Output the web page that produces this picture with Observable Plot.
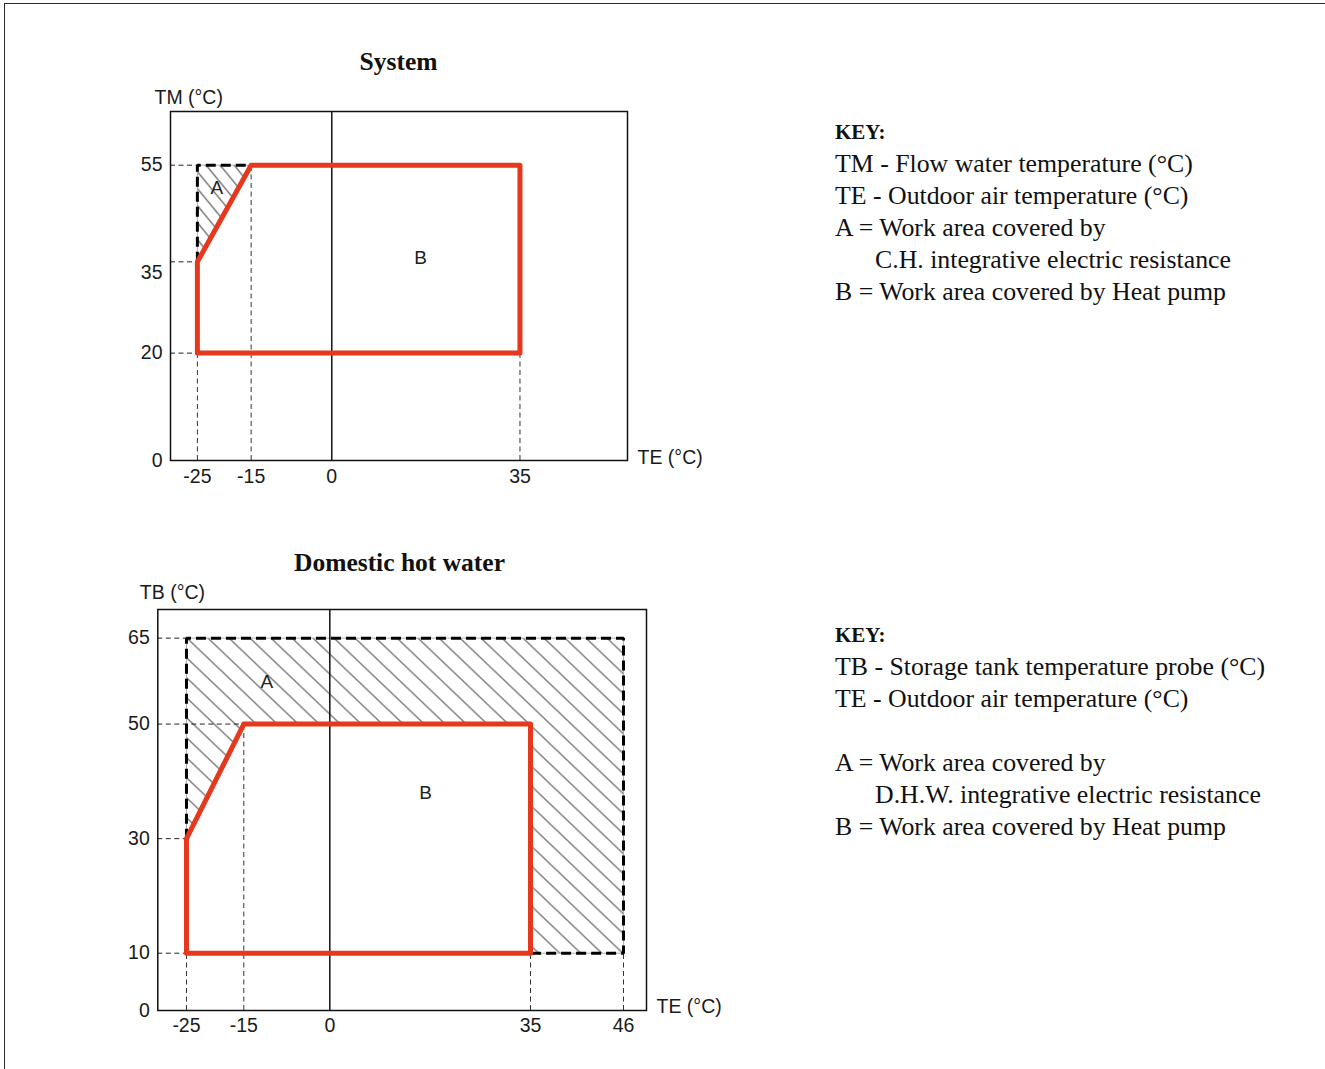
<!DOCTYPE html>
<html>
<head>
<meta charset="utf-8">
<script src="https://cdn.jsdelivr.net/npm/d3@7"></script>
<script src="https://cdn.jsdelivr.net/npm/@observablehq/plot@0.6"></script>
<style>
  html, body { margin: 0; padding: 0; background: #fff; overflow: hidden; }
  #page { position: relative; width: 1325px; height: 1069px; overflow: hidden; background: #fff; }
  #border { position: absolute; left: 4px; top: 3px; width: 1400px; height: 1200px; border: 1.5px solid #2b2b2b; }
  .title { position: absolute; font-family: "Liberation Serif", "Times New Roman", serif; font-weight: bold;
           font-size: 25.5px; line-height: 32px; text-align: center; color: #111; white-space: nowrap; }
  .key { position: absolute; left: 835px; font-family: "Liberation Serif", "Times New Roman", serif;
         font-size: 25.8px; line-height: 32px; color: #111; white-space: nowrap; }
  .key .kh { font-weight: bold; font-size: 21px; }
  .key .ind { padding-left: 40px; }
  .chart { position: absolute; left: 0; }
</style>
</head>
<body>
<div id="page">
  <div id="border"></div>
  <div class="title" style="left:170px; width:457px; top:46px;">System</div>
  <div class="title" style="left:155px; width:489px; top:547px;">Domestic hot water</div>
  <div id="key1" class="key" style="top:115px;"></div>
  <div id="key2" class="key" style="top:618px;"></div>
  <div id="chart1" class="chart" style="top:0px;"></div>
  <div id="chart2" class="chart" style="top:500px;"></div>
</div>
<script>
// ---------------- System chart data ----------------
const sysXTicks = [-25, -15, 0, 35];
const sysYTicks = [0, 20, 35, 55];
const sysHeatPump = [[-25, 20], [-25, 37], [-15, 55], [35, 55], [35, 20]];      // area B
const sysResistance = [[-25, 37], [-25, 55], [-15, 55]];                          // area A
const sysResistanceEdge = [[-25, 37], [-25, 55], [-15, 55]];
const sysGuidesH = [{y: 55, x1: -30, x2: -25}, {y: 37, x1: -30, x2: -25}, {y: 20, x1: -30, x2: -25}];
const sysGuidesV = [{x: -25, y1: 0, y2: 20}, {x: -15, y1: 0, y2: 55}, {x: 35, y1: 0, y2: 20}];
const sysAreaLabels = [{x: -21.4, y: 50.7, t: "A"}, {x: 16.5, y: 37.8, t: "B"}];

// ---------------- Domestic hot water chart data ----------------
const dhwXTicks = [-25, -15, 0, 35, 46];
const dhwYTicks = [0, 10, 30, 50, 65];
const dhwHeatPump = [[-25, 10], [-25, 30], [-15, 50], [35, 50], [35, 10]];       // area B
const dhwResistance = [[-25, 30], [-25, 65], [46, 65], [46, 10], [35, 10], [35, 50], [-15, 50]]; // area A
const dhwResistanceEdge = [[-25, 30], [-25, 65], [46, 65], [46, 10], [35, 10]];
const dhwGuidesH = [{y: 65, x1: -30, x2: -25}, {y: 50, x1: -30, x2: -15}, {y: 30, x1: -30, x2: -25}, {y: 10, x1: -30, x2: -25}];
const dhwGuidesV = [{x: -25, y1: 0, y2: 10}, {x: -15, y1: 0, y2: 50}, {x: 35, y1: 0, y2: 10}, {x: 46, y1: 0, y2: 10}];
const dhwAreaLabels = [{x: -11, y: 57.4, t: "A"}, {x: 16.7, y: 37.9, t: "B"}];

// ---------------- Keys ----------------
const key1Lines = [
  {t: "KEY:", h: true},
  {t: "TM - Flow water temperature (°C)"},
  {t: "TE - Outdoor air temperature (°C)"},
  {t: "A = Work area covered by"},
  {t: "C.H. integrative electric resistance", ind: true},
  {t: "B = Work area covered by Heat pump"}
];
const key2Lines = [
  {t: "KEY:", h: true},
  {t: "TB - Storage tank temperature probe (°C)"},
  {t: "TE - Outdoor air temperature (°C)"},
  {t: "\u00a0"},
  {t: "A = Work area covered by"},
  {t: "D.H.W. integrative electric resistance", ind: true},
  {t: "B = Work area covered by Heat pump"}
];

function fillKey(id, lines) {
  const el = d3.select("#" + id);
  el.selectAll("div").data(lines).join("div")
    .attr("class", d => d.ind ? "ind" : null)
    .append("span").attr("class", d => d.h ? "kh" : null).text(d => d.t);
}
fillKey("key1", key1Lines);
fillKey("key2", key2Lines);

const RED = "#e5381d";
const fontStyle = {fontFamily: "'Liberation Sans', Arial, sans-serif", fontSize: "19.5px", color: "#1a1a1a", background: "transparent", overflow: "visible"};
const px = d => d[0], py = d => d[1];

function addHatch(svg, id, w, h) {
  const p = d3.select(svg).insert("defs", ":first-child")
    .append("pattern").attr("id", id).attr("patternUnits", "userSpaceOnUse")
    .attr("width", w).attr("height", h);
  p.append("path")
    .attr("d", `M${-w},0L0,${h}M0,0L${w},${h}M${w},0L${2 * w},${h}`)
    .attr("stroke", "#000").attr("stroke-width", 1).attr("fill", "none");
}

function chartMarks(d) {
  return [
    Plot.line(d.resistance, {x: px, y: py, curve: "linear-closed", fill: `url(#${d.hatch})`, stroke: "#9a9a9a", strokeWidth: 0.8}),
    Plot.ruleY(d.guidesH, {y: "y", x1: "x1", x2: "x2", stroke: "#222", strokeWidth: 1, strokeDasharray: "5,3.5"}),
    Plot.ruleX(d.guidesV, {x: "x", y1: "y1", y2: "y2", stroke: "#333", strokeWidth: 1, strokeDasharray: "5,3.5"}),
    Plot.ruleX([0], {stroke: "#111", strokeWidth: 1.5}),
    Plot.line(d.edge, {x: px, y: py, stroke: "#000", strokeWidth: 3, strokeDasharray: "10,5", strokeLinecap: "butt", strokeLinejoin: "miter"}),
    Plot.line(d.heatPump, {x: px, y: py, curve: "linear-closed", stroke: RED, strokeWidth: 5, strokeLinejoin: "round"}),
    Plot.frame({stroke: "#111", strokeWidth: 1.5}),
    Plot.text(d.labels, {x: "x", y: "y", text: "t", fontSize: 19, fill: "#222"}),
    Plot.text([d.yTitle], {text: t => t, frameAnchor: "top-left", textAnchor: "start", lineAnchor: "middle", dx: d.yTitleDx, dy: d.yTitleDy, fontSize: 19.5}),
    Plot.text(["TE (°C)"], {text: t => t, frameAnchor: "bottom-right", textAnchor: "start", lineAnchor: "middle", dx: 10, dy: d.xTitleDy, fontSize: 19.5})
  ];
}

// ---------------- System chart ----------------
const chart1 = Plot.plot({
  width: 760, height: 500,
  marginLeft: 170, marginRight: 133, marginTop: 111, marginBottom: 40,
  style: fontStyle,
  x: {type: "linear", domain: [-30, 55], ticks: sysXTicks, tickSize: 0, tickPadding: 9, tickFormat: d => String(d), label: null},
  y: {type: "linear", domain: [0, 65], ticks: sysYTicks, tickSize: 0, tickPadding: 8, tickFormat: d => String(d), label: null},
  marks: chartMarks({
    resistance: sysResistance, edge: sysResistanceEdge, heatPump: sysHeatPump,
    guidesH: sysGuidesH, guidesV: sysGuidesV, labels: sysAreaLabels, hatch: "hatchSys",
    yTitle: "TM (°C)", yTitleDx: -16, yTitleDy: -14, xTitleDy: -3
  })
});
addHatch(chart1, "hatchSys", 14, 17);
document.getElementById("chart1").appendChild(chart1);

// ---------------- Domestic hot water chart ----------------
const chart2 = Plot.plot({
  width: 760, height: 569,
  marginLeft: 157.3, marginRight: 114, marginTop: 109, marginBottom: 59,
  style: fontStyle,
  x: {type: "linear", domain: [-30, 35, 46, 50], range: [157.3, 530, 623, 646], ticks: dhwXTicks, tickSize: 0, tickPadding: 8, tickFormat: d => String(d), label: null},
  y: {type: "linear", domain: [0, 70], ticks: dhwYTicks, tickSize: 0, tickPadding: 8, tickFormat: d => String(d), label: null},
  marks: chartMarks({
    resistance: dhwResistance, edge: dhwResistanceEdge, heatPump: dhwHeatPump,
    guidesH: dhwGuidesH, guidesV: dhwGuidesV, labels: dhwAreaLabels, hatch: "hatchDhw",
    yTitle: "TB (°C)", yTitleDx: -18, yTitleDy: -17, xTitleDy: -4
  })
});
addHatch(chart2, "hatchDhw", 21, 20);
document.getElementById("chart2").appendChild(chart2);
</script>
</body>
</html>
